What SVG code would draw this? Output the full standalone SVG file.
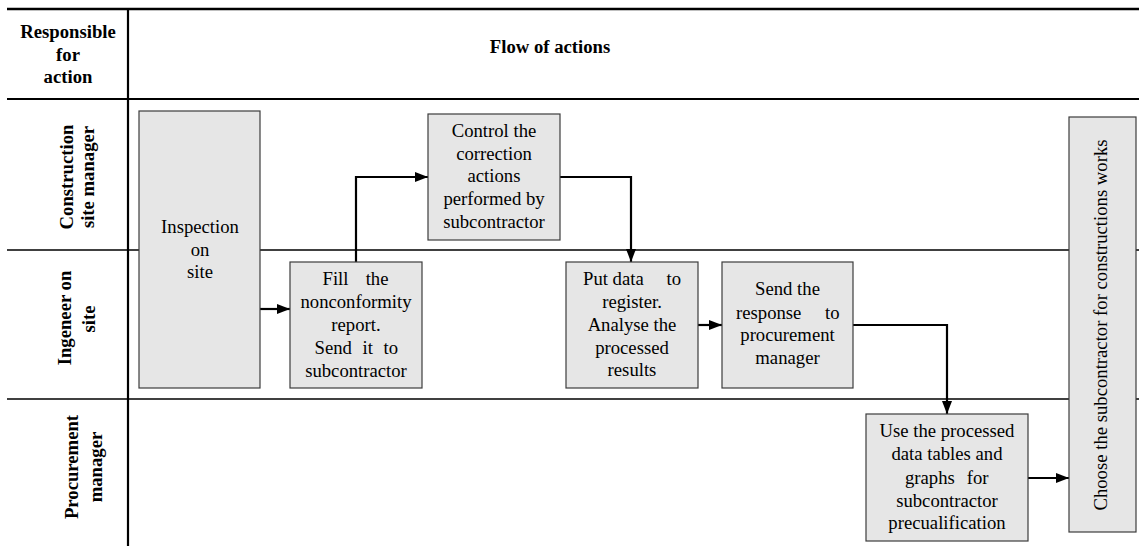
<svg xmlns="http://www.w3.org/2000/svg" width="1139" height="548" viewBox="0 0 1139 548">
<style>
text{font-family:'Liberation Serif','Times New Roman',Tinos,'DejaVu Serif',serif;font-size:18.7px;fill:#000}
.b{font-weight:bold}
.m{text-anchor:middle}
.box{fill:#e6e6e6;stroke:#3c3c3c;stroke-width:1.2}
.grid{stroke:#000;fill:none}
.conn{stroke:#000;stroke-width:2.2;fill:none;marker-end:url(#ah)}
</style>
<defs>
<marker id="ah" markerUnits="userSpaceOnUse" markerWidth="14" markerHeight="10" refX="13" refY="5" orient="auto">
<path d="M0,0 L13,5 L0,10 z" fill="#000"/>
</marker>
</defs>
<rect width="1139" height="548" fill="#fff"/>
<g id="grid">
<line class="grid" x1="7" y1="9" x2="1139" y2="9" stroke-width="2.5"/>
<line class="grid" x1="7" y1="99" x2="1139" y2="99" stroke-width="2.2"/>
<line class="grid" x1="7" y1="250" x2="1139" y2="250" stroke-width="1.3"/>
<line class="grid" x1="7" y1="399" x2="1139" y2="399" stroke-width="1.3"/>
<line class="grid" x1="128" y1="8" x2="128" y2="546" stroke-width="2.2"/>
</g>
<g id="headers" font-family="Liberation Serif, serif">
<text class="b m" x="68" y="38">Responsible</text>
<text class="b m" x="68" y="61">for</text>
<text class="b m" x="68" y="83">action</text>
<text class="b m" x="550" y="53">Flow of actions</text>
</g>
<g id="lane-construction">
<text class="b m" transform="translate(73,177) rotate(-90)">Construction</text>
<text class="b m" transform="translate(94,177) rotate(-90)">site manager</text>
</g>
<g id="lane-ingeneer">
<text class="b m" transform="translate(71,318) rotate(-90)">Ingeneer on</text>
<text class="b m" transform="translate(95,319) rotate(-90)">site</text>
</g>
<g id="lane-procurement">
<text class="b m" transform="translate(78,467) rotate(-90)">Procurement</text>
<text class="b m" transform="translate(102,467) rotate(-90)">manager</text>
</g>
<g id="connectors">
<path class="conn" d="M260,309 H290"/>
<path class="conn" d="M356,262 V177 H428"/>
<path class="conn" d="M560,177 H631 V262"/>
<path class="conn" d="M698,325 H722"/>
<path class="conn" d="M853,325 H947 V414"/>
<path class="conn" d="M1028,478 H1069"/>
</g>
<g id="inspection">
<rect class="box" x="139" y="111" width="121" height="277"/>
<text class="m" x="200" y="233">Inspection</text>
<text class="m" x="200" y="255.5">on</text>
<text class="m" x="200" y="278">site</text>
</g>
<g id="fill-report">
<rect class="box" x="290" y="262" width="132" height="126"/>
<text x="322.5" y="285">Fill</text>
<text x="388.5" y="285" text-anchor="end">the</text>
<text class="m" x="356" y="308">nonconformity</text>
<text class="m" x="356" y="331">report.</text>
<text x="314.5" y="353.5" word-spacing="6">Send it to</text>
<text class="m" x="356" y="376.5">subcontractor</text>
</g>
<g id="control">
<rect class="box" x="428" y="114" width="132" height="126"/>
<text class="m" x="494" y="137">Control the</text>
<text class="m" x="494" y="159.5">correction</text>
<text class="m" x="494" y="182">actions</text>
<text class="m" x="494" y="205">performed by</text>
<text class="m" x="494" y="228">subcontractor</text>
</g>
<g id="put-data">
<rect class="box" x="566" y="262" width="132" height="126"/>
<text x="583" y="285">Put data</text>
<text x="681" y="285" text-anchor="end">to</text>
<text class="m" x="632" y="307.5">register.</text>
<text class="m" x="632" y="330.5">Analyse the</text>
<text class="m" x="632" y="353.5">processed</text>
<text class="m" x="632" y="376">results</text>
</g>
<g id="send-response">
<rect class="box" x="722" y="262" width="131" height="126"/>
<text class="m" x="787.5" y="295">Send the</text>
<text x="736" y="318.5">response</text>
<text x="839.5" y="318.5" text-anchor="end">to</text>
<text class="m" x="787.5" y="341">procurement</text>
<text class="m" x="787.5" y="363.5">manager</text>
</g>
<g id="use-data">
<rect class="box" x="866" y="414" width="162" height="127"/>
<text class="m" x="947" y="437">Use the processed</text>
<text class="m" x="947" y="460">data tables and</text>
<text x="905" y="483.5">graphs</text>
<text x="988.5" y="483.5" text-anchor="end">for</text>
<text class="m" x="947" y="506.5">subcontractor</text>
<text class="m" x="947" y="528.5">precualification</text>
</g>
<g id="choose">
<rect class="box" x="1069" y="117" width="67" height="415"/>
<text class="m" transform="translate(1107,325) rotate(-90)">Choose the subcontractor for constructions works</text>
</g>
</svg>
